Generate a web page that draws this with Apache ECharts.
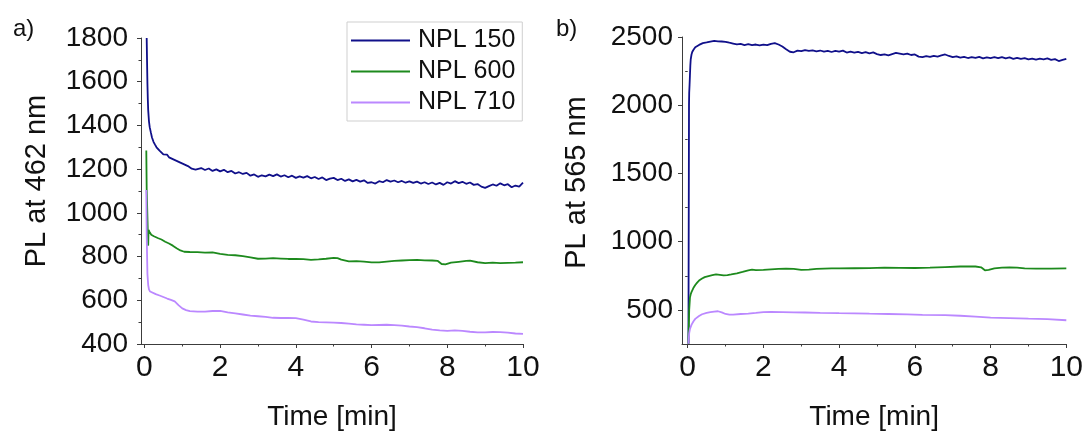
<!DOCTYPE html>
<html>
<head>
<meta charset="utf-8">
<script src="https://cdn.jsdelivr.net/npm/echarts@6/dist/echarts.min.js"></script>
<style>
html,body{margin:0;padding:0;background:#fff;}
#chart{width:1086px;height:436px;}
</style>
</head>
<body>
<div id="chart"></div>
<script>
// ---------- data ----------
const seriesNames = ['NPL 150', 'NPL 600', 'NPL 710'];
const xTickValues = [0, 2, 4, 6, 8, 10];
const xMinorTickValues = [1, 3, 5, 7, 9];
const yTickValuesB = [500, 1000, 1500, 2000, 2500];
const yMinorTickValuesB = [750, 1250, 1750, 2250];

// panel a) PL at 462 nm, [time (min), PL]
const npl150_a = [[0.06,1800],[0.07,1690],[0.08,1590],[0.09,1520],[0.10,1470],[0.12,1420],[0.14,1392],[0.17,1368],[0.20,1345],[0.24,1325],[0.28,1312],[0.32,1300],[0.36,1292],[0.40,1285],[0.45,1279],[0.50,1268],[0.55,1262],[0.60,1266],[0.65,1254],[0.70,1258],[0.75,1246],[0.80,1250],[0.85,1238],[0.90,1242],[0.95,1230],[1.00,1234],[1.05,1222],[1.10,1226],[1.15,1214],[1.20,1210],[1.25,1202],[1.30,1207],[1.35,1198],[1.40,1204],
[1.5,1205],[1.6,1196],[1.7,1203],[1.8,1192],[1.9,1199],[2.0,1190],[2.1,1197],[2.2,1186],[2.3,1192],[2.4,1180],[2.5,1186],[2.6,1178],[2.7,1183],[2.8,1170],[2.9,1176],[3.0,1165],[3.1,1172],[3.2,1167],[3.3,1175],[3.4,1168],[3.5,1176],[3.6,1166],[3.7,1172],[3.8,1163],[3.9,1170],[4.0,1160],[4.1,1167],[4.2,1161],[4.3,1168],[4.4,1158],[4.5,1164],[4.6,1155],[4.7,1162],[4.8,1150],[4.9,1157],[5.0,1160],[5.1,1150],[5.2,1156],[5.3,1146],[5.4,1153],[5.5,1144],[5.6,1151],[5.7,1143],[5.8,1149],[5.9,1137],[6.0,1140],[6.1,1134],[6.2,1145],[6.3,1140],[6.4,1150],[6.5,1143],[6.6,1148],[6.7,1140],[6.8,1146],[6.9,1138],[7.0,1144],[7.1,1137],[7.2,1143],[7.3,1134],[7.4,1140],[7.5,1132],[7.6,1139],[7.7,1130],[7.8,1137],[7.9,1128],[8.0,1140],[8.1,1134],[8.2,1145],[8.3,1136],[8.4,1142],[8.5,1133],[8.6,1139],[8.7,1128],[8.8,1132],[8.9,1120],[9.0,1114],[9.1,1122],[9.2,1130],[9.3,1124],[9.4,1135],[9.5,1126],[9.6,1131],[9.7,1117],[9.8,1125],[9.9,1120],[10.0,1138]];

const npl600_a = [[0.05,1285],[0.06,1110],[0.10,850],[0.11,922],[0.14,912],[0.18,900],[0.25,893],[0.35,885],[0.45,878],[0.55,868],[0.65,860],[0.75,850],[0.85,838],[0.95,828],[1.05,822],[1.2,821],[1.4,820],[1.6,818],[1.8,819],[2.0,812],[2.2,808],[2.4,806],[2.6,802],[2.8,796],[3.0,790],[3.2,791],[3.4,793],[3.6,791],[3.8,789],[4.0,789],[4.2,788],[4.4,785],[4.6,787],[4.8,790],[5.0,794],[5.1,793],[5.2,786],[5.4,778],[5.6,779],[5.8,777],[6.0,773],[6.2,773],[6.4,777],[6.6,780],[6.8,782],[7.0,784],[7.2,785],[7.4,783],[7.6,782],[7.75,780],[7.85,766],[7.95,764],[8.1,772],[8.3,776],[8.5,780],[8.6,781],[8.8,774],[9.0,770],[9.2,772],[9.4,770],[9.6,771],[9.8,772],[10.0,774]];

const npl710_a = [[0.05,1105],[0.06,900],[0.08,720],[0.10,670],[0.12,650],[0.15,640],[0.2,634],[0.3,628],[0.4,622],[0.5,615],[0.6,608],[0.7,602],[0.8,595],[0.9,578],[1.0,563],[1.1,555],[1.2,550],[1.4,548],[1.6,548],[1.8,551],[2.0,552],[2.2,545],[2.4,540],[2.6,535],[2.8,530],[3.0,527],[3.2,524],[3.4,520],[3.6,519],[3.8,519],[4.0,518],[4.2,512],[4.4,503],[4.6,500],[4.8,499],[5.0,498],[5.2,496],[5.4,493],[5.6,490],[5.8,488],[6.0,486],[6.2,487],[6.4,488],[6.6,486],[6.8,484],[7.0,480],[7.2,477],[7.4,472],[7.6,466],[7.8,462],[8.0,460],[8.2,462],[8.4,460],[8.6,456],[8.8,453],[9.0,453],[9.2,455],[9.4,454],[9.6,452],[9.8,448],[10.0,446]];

// panel b) PL at 565 nm
const npl150_b = [[0.02,252],[0.03,1400],[0.035,2000],[0.04,2090],[0.05,2150],[0.06,2220],[0.07,2290],[0.08,2335],[0.10,2370],[0.12,2390],[0.15,2405],[0.2,2425],[0.25,2436],[0.3,2442],[0.35,2450],[0.4,2455],[0.45,2452],[0.5,2460],[0.55,2457],[0.6,2466],[0.65,2460],[0.7,2471],[0.75,2464],[0.8,2468],[0.85,2461],[0.9,2467],[0.95,2460],[1.0,2465],[1.1,2458],[1.2,2452],[1.3,2446],[1.4,2449],[1.5,2441],[1.6,2447],[1.7,2440],[1.8,2445],[1.9,2438],[2.0,2444],[2.1,2440],[2.2,2450],[2.3,2455],[2.4,2445],[2.5,2430],[2.6,2410],[2.7,2392],[2.8,2388],[2.9,2400],[3.0,2396],[3.1,2404],[3.2,2398],[3.3,2402],[3.4,2395],[3.5,2401],[3.6,2393],[3.7,2399],[3.8,2390],[3.9,2398],[4.0,2392],[4.1,2400],[4.2,2386],[4.3,2393],[4.4,2385],[4.5,2391],[4.6,2382],[4.7,2389],[4.8,2380],[4.9,2387],[5.0,2375],[5.1,2368],[5.2,2372],[5.3,2366],[5.4,2375],[5.5,2383],[5.6,2378],[5.7,2373],[5.8,2378],[5.9,2368],[6.0,2372],[6.1,2356],[6.2,2352],[6.3,2360],[6.4,2354],[6.5,2362],[6.6,2357],[6.7,2365],[6.8,2372],[6.9,2361],[7.0,2352],[7.1,2358],[7.2,2349],[7.3,2355],[7.4,2346],[7.5,2352],[7.6,2347],[7.7,2354],[7.8,2344],[7.9,2351],[8.0,2346],[8.1,2352],[8.2,2345],[8.3,2353],[8.4,2344],[8.5,2350],[8.6,2340],[8.7,2347],[8.8,2339],[8.9,2345],[9.0,2336],[9.1,2342],[9.2,2334],[9.3,2341],[9.4,2336],[9.5,2343],[9.6,2333],[9.7,2338],[9.8,2324],[9.9,2332],[10.0,2340]];

const npl600_b = [[0.02,252],[0.04,500],[0.06,590],[0.08,615],[0.1,630],[0.15,660],[0.2,682],[0.25,700],[0.3,715],[0.38,730],[0.45,740],[0.55,748],[0.65,754],[0.75,760],[0.85,757],[0.95,753],[1.05,755],[1.15,760],[1.3,768],[1.45,778],[1.6,790],[1.7,795],[1.8,792],[2.0,793],[2.2,797],[2.4,800],[2.6,802],[2.8,800],[3.0,793],[3.2,795],[3.4,800],[3.6,803],[3.8,804],[4.0,804],[4.4,805],[4.8,806],[5.2,810],[5.6,808],[6.0,807],[6.4,810],[6.8,814],[7.2,818],[7.6,818],[7.75,812],[7.85,790],[7.95,793],[8.1,805],[8.3,810],[8.5,812],[8.7,810],[8.9,804],[9.2,803],[9.6,803],[10.0,804]];

const npl710_b = [[0.02,252],[0.04,330],[0.06,360],[0.1,390],[0.15,415],[0.2,434],[0.3,455],[0.38,468],[0.5,478],[0.6,483],[0.7,487],[0.8,490],[0.9,482],[1.0,470],[1.1,465],[1.2,466],[1.4,470],[1.6,473],[1.8,478],[2.0,484],[2.2,486],[2.5,484],[2.8,482],[3.1,481],[3.5,478],[4.0,476],[4.4,475],[4.8,472],[5.3,470],[5.8,467],[6.2,463],[6.8,461],[7.2,457],[7.6,450],[8.0,443],[8.5,440],[9.0,436],[9.5,433],[10.0,424]];

// ---------- styling ----------
const FONT = 'Liberation Sans, Arial, sans-serif';
const AXIS = '#3c3c3c';
const TXT = '#111111';
const COLORS = ['#10108a', '#1d8a1d', '#bb88ff'];
const plain = v => String(v);

function mainX(grid, min) {
  return {
    type: 'value', gridIndex: grid, position: 'bottom', min: min, max: 10,
    axisLine: { show: true, onZero: false, lineStyle: { color: AXIS, width: 1 } },
    axisTick: { show: true, inside: false, length: 4, customValues: xTickValues, lineStyle: { color: AXIS, width: 1 } },
    axisLabel: { show: true, customValues: xTickValues, formatter: plain, fontSize: 30, color: TXT, fontFamily: FONT, margin: 9 },
    splitLine: { show: false },
    name: 'Time [min]', nameLocation: 'middle', nameGap: 59,
    nameTextStyle: { fontSize: 28, color: TXT, fontFamily: FONT }
  };
}
function minorX(grid, min) {
  return {
    type: 'value', gridIndex: grid, position: 'bottom', min: min, max: 10,
    axisLine: { show: false },
    axisTick: { show: true, inside: false, length: 2.5, customValues: xMinorTickValues, lineStyle: { color: AXIS, width: 1 } },
    axisLabel: { show: false }, splitLine: { show: false }
  };
}

const option = {
  animation: false,
  backgroundColor: '#ffffff',
  textStyle: { fontFamily: FONT },
  title: [
    { text: 'a)', left: 8, top: 12, textStyle: { fontSize: 24, fontWeight: 'normal', color: TXT, fontFamily: FONT } },
    { text: 'b)', left: 551, top: 12, textStyle: { fontSize: 24, fontWeight: 'normal', color: TXT, fontFamily: FONT } }
  ],
  legend: {
    show: true, orient: 'vertical', left: 347, top: 22,
    data: seriesNames, icon: 'rect', itemWidth: 59, itemHeight: 2, itemGap: 0,
    padding: [3, 7, 3, 4], borderColor: '#cfcfcf', borderWidth: 1, selectedMode: false,
    textStyle: { fontSize: 25, lineHeight: 31, color: TXT, fontFamily: FONT, padding: [0, 0, 0, 3] }
  },
  grid: [
    { left: 141, top: 38, width: 382, height: 314 },
    { left: 682, top: 37, width: 385, height: 317 }
  ],
  xAxis: [ mainX(0, -0.09), minorX(0, -0.09), mainX(1, -0.15), minorX(1, -0.15) ],
  yAxis: [
    {
      type: 'value', gridIndex: 0, position: 'left', min: 400, max: 1800, interval: 200,
      axisLine: { show: true, onZero: false, lineStyle: { color: AXIS, width: 1 } },
      axisTick: { show: true, inside: false, length: 4, lineStyle: { color: AXIS, width: 1 } },
      minorTick: { show: true, splitNumber: 2, length: 2.5, lineStyle: { color: AXIS, width: 1 } },
      axisLabel: { formatter: plain, fontSize: 28, color: TXT, fontFamily: FONT, margin: 13 },
      splitLine: { show: false }, minorSplitLine: { show: false },
      name: 'PL at 462 nm', nameLocation: 'middle', nameGap: 90,
      nameTextStyle: { fontSize: 29, color: TXT, fontFamily: FONT, padding: [0, 0, 0, 20] }
    },
    {
      type: 'value', gridIndex: 1, position: 'left', min: 250, max: 2500,
      axisLine: { show: true, onZero: false, lineStyle: { color: AXIS, width: 1 } },
      axisTick: { show: true, inside: false, length: 4, customValues: yTickValuesB, lineStyle: { color: AXIS, width: 1 } },
      axisLabel: { customValues: yTickValuesB, formatter: plain, fontSize: 28, color: TXT, fontFamily: FONT, margin: 9 },
      splitLine: { show: false },
      name: 'PL at 565 nm', nameLocation: 'middle', nameGap: 91,
      nameTextStyle: { fontSize: 29, color: TXT, fontFamily: FONT, padding: [0, 0, 0, 16] }
    },
    {
      type: 'value', gridIndex: 1, position: 'left', min: 250, max: 2500,
      axisLine: { show: false },
      axisTick: { show: true, inside: false, length: 2.5, customValues: yMinorTickValuesB, lineStyle: { color: AXIS, width: 1 } },
      axisLabel: { show: false }, splitLine: { show: false }
    }
  ],
  series: [
    { name: seriesNames[0], data: npl150_a, xAxisIndex: 0, yAxisIndex: 0, color: COLORS[0] },
    { name: seriesNames[1], data: npl600_a, xAxisIndex: 0, yAxisIndex: 0, color: COLORS[1] },
    { name: seriesNames[2], data: npl710_a, xAxisIndex: 0, yAxisIndex: 0, color: COLORS[2] },
    { name: seriesNames[0], data: npl150_b, xAxisIndex: 2, yAxisIndex: 1, color: COLORS[0] },
    { name: seriesNames[1], data: npl600_b, xAxisIndex: 2, yAxisIndex: 1, color: COLORS[1] },
    { name: seriesNames[2], data: npl710_b, xAxisIndex: 2, yAxisIndex: 1, color: COLORS[2] }
  ].map(s => Object.assign({
    type: 'line', symbol: 'none', showSymbol: false, clip: true,
    lineStyle: { width: 1.8, color: s.color }, itemStyle: { color: s.color }
  }, s))
};

const chart = echarts.init(document.getElementById('chart'), null, { renderer: 'canvas' });
chart.setOption(option);
</script>
</body>
</html>
